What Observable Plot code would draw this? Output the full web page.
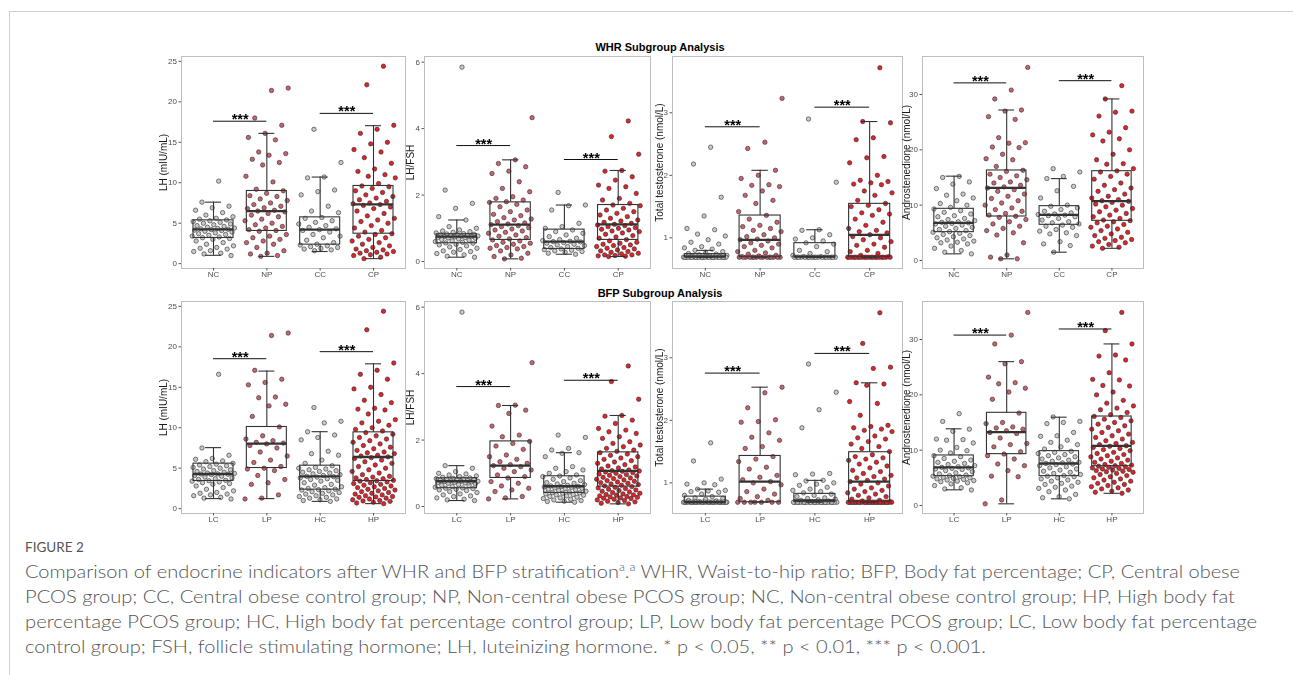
<!DOCTYPE html>
<html>
<head>
<meta charset="utf-8">
<script src="https://cdn.jsdelivr.net/npm/d3@7"></script>
<script src="https://cdn.jsdelivr.net/npm/@observablehq/plot@0.6"></script>
<style>
  html, body { margin: 0; padding: 0; background: #fff; }
  body { width: 1293px; height: 675px; position: relative; overflow: hidden; font-family: "Liberation Sans", Arial, sans-serif; }
  .card { position: absolute; left: 9px; top: 11px; width: 1300px; height: 700px; border-top: 1px solid #cfcfcf; border-left: 1px solid #cfcfcf; }
  .ptitle { position: absolute; width: 400px; text-align: center; font-weight: bold; font-size: 11px; color: #000; }
  .panel { position: absolute; will-change: transform; }
  .figlab { position: absolute; left: 25px; top: 539px; font-family: "Lato", "Open Sans", sans-serif; font-size: 13.5px; color: #555; }
  .cap { position: absolute; left: 25px; font-family: "Lato", "Open Sans", sans-serif; font-weight: 300; font-size: 18px; color: #555; white-space: nowrap; transform-origin: 0 50%; line-height: 25px; }
  .cap sup { font-size: 11px; line-height: 0; }
</style>
</head>
<body>
<div class="card"></div>
<div class="ptitle" style="left:460px; top:41px;">WHR Subgroup Analysis</div>
<div class="ptitle" style="left:460px; top:287px;">BFP Subgroup Analysis</div>
<div id="panels"></div>
<div class="figlab">FIGURE 2</div>
<div class="cap" data-w="1215" style="top:559px;">Comparison of endocrine indicators after WHR and BFP stratification<sup>a</sup>.<sup>a</sup> WHR, Waist-to-hip ratio; BFP, Body fat percentage; CP, Central obese</div>
<div class="cap" data-w="1210" style="top:584px;">PCOS group; CC, Central obese control group; NP, Non-central obese PCOS group; NC, Non-central obese control group; HP, High body fat</div>
<div class="cap" data-w="1232" style="top:609px;">percentage PCOS group; HC, High body fat percentage control group; LP, Low body fat percentage PCOS group; LC, Low body fat percentage</div>
<div class="cap" data-w="961" style="top:634px;">control group; FSH, follicle stimulating hormone; LH, luteinizing hormone. * p &lt; 0.05, ** p &lt; 0.01, *** p &lt; 0.001.</div>
<script>
// ---------- categories ----------
const groupsWHR = ["NC", "NP", "CC", "CP"];
const groupsBFP = ["LC", "LP", "HC", "HP"];
const yLabels = ["LH (mIU/mL)", "LH/FSH", "Total testosterone (nmol/L)", "Androstenedione (nmol/L)"];
const yTicksLH = [0, 5, 10, 15, 20, 25];
const yTicksRatio = [0, 2, 4, 6];
const yTicksT = [1, 2, 3];
const yTicksA = [0, 10, 20, 30];

// ---------- WHR: LH ----------
const whrLH_NC = [10.2,7.6,7.1,6.9,6.6,6.3,6.0,5.8,5.6,5.5,5.4,5.3,5.2,5.1,5.0,4.9,4.8,4.7,4.6,4.5,4.4,4.35,4.3,4.25,4.2,4.15,4.1,4.0,3.9,3.8,3.7,3.6,3.5,3.4,3.3,3.2,3.1,3.0,2.8,2.6,2.4,2.2,2.0,1.9,1.8,1.6,1.5,1.3,1.2,1.0];
const whrLH_NP = [21.7,21.4,18.0,17.1,16.1,15.6,15.3,13.8,13.6,13.4,12.9,12.5,12.2,10.8,10.1,9.2,9.0,8.7,8.4,8.3,8.0,7.8,7.5,7.3,7.1,6.9,6.8,6.6,6.5,6.4,6.2,6.0,5.8,5.5,5.3,5.0,4.8,4.6,4.4,4.2,4.1,4.0,3.6,3.4,3.2,3.0,2.8,2.6,2.4,2.0,1.6,1.3,1.2,1.0,0.9];
const whrLH_CC = [16.6,12.5,10.7,10.6,9.1,8.9,8.5,7.1,6.5,6.3,5.7,5.6,5.3,5.1,4.9,4.7,4.5,4.3,4.2,4.1,3.9,3.6,3.4,3.2,2.9,2.6,2.4,2.3,2.2,2.1,2.0,1.9,1.8,1.7,1.6];
const whrLH_CP = [24.4,22.1,17.1,16.6,16.1,15.0,14.8,14.1,13.8,13.1,12.4,11.7,11.4,11.0,10.8,10.6,9.9,9.6,9.5,9.3,9.0,8.8,8.5,8.3,8.1,7.9,7.7,7.5,7.4,7.3,7.2,7.0,6.8,6.5,6.2,5.9,5.6,5.4,5.2,5.0,4.7,4.4,4.1,3.9,3.7,3.6,3.4,3.2,3.0,2.8,2.6,2.4,2.2,2.0,1.8,1.7,1.6,1.5,1.4,1.3,1.2,1.1,1.0,0.8,0.62];
// box stats [lower whisker, q1, median, q3, upper whisker]
const whrLH_box = [[1.03,3.17,4.24,5.35,7.6],[0.9,4.04,6.5,8.98,16.1],[1.5,2.35,4.2,5.72,10.7],[0.62,3.7,7.33,9.6,17.05]];
const whrLH_sig = [17.6, 18.57];

// ---------- WHR: LH/FSH ----------
const whrRatio_NC = [5.85,2.15,1.75,1.6,1.35,1.25,1.05,1.0,0.95,0.92,0.9,0.88,0.86,0.84,0.83,0.82,0.81,0.8,0.79,0.78,0.77,0.76,0.75,0.75,0.74,0.73,0.72,0.71,0.7,0.68,0.66,0.64,0.62,0.6,0.58,0.56,0.55,0.52,0.5,0.47,0.44,0.4,0.36,0.32,0.3,0.28,0.24,0.2,0.16,0.13];
const whrRatio_NP = [4.33,3.06,2.95,2.85,2.72,2.65,2.4,2.2,2.1,1.95,1.9,1.85,1.8,1.78,1.72,1.65,1.55,1.5,1.42,1.38,1.32,1.28,1.25,1.2,1.16,1.13,1.11,1.08,1.05,1.02,0.98,0.95,0.92,0.88,0.85,0.8,0.76,0.72,0.68,0.65,0.62,0.58,0.55,0.52,0.48,0.45,0.42,0.4,0.38,0.32,0.25,0.2,0.15,0.1,0.08];
const whrRatio_CC = [2.08,1.7,1.68,1.55,1.15,1.05,1.0,0.95,0.9,0.85,0.8,0.75,0.7,0.66,0.63,0.61,0.6,0.59,0.57,0.55,0.52,0.5,0.48,0.45,0.42,0.4,0.38,0.36,0.34,0.32,0.3,0.28,0.25,0.22];
const whrRatio_CP = [4.23,3.76,3.23,2.74,2.72,2.55,2.45,2.3,2.25,2.2,2.05,1.9,1.85,1.75,1.7,1.68,1.6,1.55,1.5,1.45,1.4,1.35,1.3,1.25,1.22,1.18,1.15,1.12,1.1,1.08,1.05,1.02,1.0,0.97,0.95,0.92,0.9,0.86,0.82,0.78,0.74,0.7,0.66,0.62,0.58,0.55,0.52,0.5,0.48,0.45,0.42,0.4,0.38,0.35,0.32,0.3,0.28,0.25,0.23,0.2,0.2,0.18,0.17,0.16,0.15];
const whrRatio_box = [[0.13,0.55,0.75,0.82,1.25],[0.08,0.65,1.11,1.78,3.06],[0.22,0.38,0.6,0.96,1.7],[0.15,0.65,1.12,1.7,2.74]];
const whrRatio_sig = [3.49, 3.07];

// ---------- WHR: Total testosterone ----------
const whrT_NC = [2.45,2.18,1.65,1.35,1.15,1.13,1.06,1.03,0.97,0.93,0.9,0.86,0.84,0.82,0.8,0.78,0.76,0.75,0.74,0.73,0.72,0.71,0.7,0.7,0.69,0.69,0.69,0.69,0.69,0.69,0.69,0.69,0.69,0.69,0.69,0.69,0.69,0.69,0.69,0.69,0.69,0.69,0.69,0.69,0.69,0.69,0.69,0.69,0.69,0.69];
const whrT_NP = [3.23,2.53,2.43,2.08,2.0,1.95,1.85,1.84,1.82,1.75,1.68,1.6,1.55,1.42,1.36,1.3,1.25,1.2,1.18,1.15,1.12,1.1,1.05,1.02,1.0,0.98,0.97,0.95,0.92,0.9,0.88,0.86,0.84,0.8,0.78,0.76,0.74,0.72,0.71,0.7,0.69,0.69,0.69,0.69,0.69,0.69,0.69,0.69,0.69,0.69,0.69,0.69,0.69,0.69,0.69];
const whrT_CC = [2.9,1.89,1.13,1.12,1.05,1.0,0.98,0.95,0.92,0.9,0.86,0.8,0.78,0.75,0.72,0.7,0.7,0.69,0.69,0.69,0.69,0.69,0.69,0.69,0.69,0.69,0.69,0.69,0.69,0.69,0.69,0.69,0.69,0.69,0.69];
const whrT_CP = [3.72,2.86,2.84,2.6,2.57,2.3,2.28,2.2,2.0,1.92,1.9,1.88,1.86,1.85,1.75,1.72,1.68,1.6,1.55,1.52,1.5,1.45,1.4,1.38,1.36,1.3,1.25,1.2,1.15,1.12,1.1,1.08,1.05,1.02,1.0,0.97,0.94,0.9,0.88,0.85,0.8,0.78,0.75,0.72,0.7,0.69,0.69,0.69,0.69,0.69,0.69,0.69,0.69,0.69,0.69,0.69,0.69,0.69,0.69,0.69,0.69,0.69,0.69,0.69,0.69];
const whrT_box = [[0.69,0.69,0.70,0.74,0.80],[0.69,0.69,0.968,1.357,2.08],[0.69,0.69,0.70,0.915,1.13],[0.69,0.69,1.048,1.544,2.86]];
const whrT_sig = [2.776, 3.09];

// ---------- WHR: Androstenedione ----------
const whrA_NC = [15.2,15.0,14.2,13.8,13.0,12.0,11.8,11.3,10.8,10.3,10.0,9.6,9.3,9.0,8.7,8.4,8.1,7.9,7.6,7.4,7.2,7.0,6.9,6.8,6.7,6.6,6.4,6.2,6.0,5.8,5.6,5.4,5.2,5.1,4.9,4.7,4.5,4.3,4.1,3.9,3.7,3.5,3.3,3.2,3.0,2.6,2.2,1.8,1.5,1.2];
const whrA_NP = [34.9,30.8,29.2,27.2,27.0,26.0,25.5,22.2,21.3,21.2,20.5,20.4,19.2,18.4,18.2,17.0,16.3,16.1,15.6,15.3,15.0,14.6,14.2,14.0,13.6,13.3,13.1,12.8,12.5,12.0,11.6,11.2,10.8,10.4,10.0,9.5,9.2,8.9,8.5,8.2,8.0,7.8,7.4,7.0,6.6,6.2,5.8,5.4,5.0,4.6,3.2,1.0,0.6,0.3,0.3];
const whrA_CC = [16.6,16.0,15.2,14.8,13.4,12.6,11.3,10.0,9.8,9.5,9.2,8.9,8.6,8.4,8.3,8.2,8.1,7.9,7.6,7.3,7.0,6.8,6.6,6.4,6.2,6.0,5.6,5.3,5.0,4.8,4.5,3.4,3.0,2.7,1.5];
const whrA_CP = [31.6,29.2,27.0,26.8,26.1,24.0,23.2,22.7,22.0,21.6,20.0,19.2,18.2,17.5,17.4,16.6,16.2,16.0,15.6,15.2,14.7,14.0,13.6,13.1,12.8,12.5,12.0,11.6,11.3,11.0,10.8,10.7,10.5,10.2,10.0,9.7,9.4,9.1,8.8,8.5,8.2,7.9,7.6,7.3,7.2,7.0,6.8,6.5,6.2,6.0,5.7,5.4,5.1,4.8,4.5,4.2,4.0,3.8,3.6,3.4,3.2,2.9,2.6,2.4,2.2];
const whrA_box = [[1.2,5.12,6.8,9.34,15.24],[0.3,7.95,13.13,16.27,27.2],[1.5,6.45,8.25,9.82,14.8],[2.2,7.17,10.72,16.14,29.2]];
const whrA_sig = [32.1, 32.5];

// ---------- BFP: LH ----------
const bfpLH_LC = [16.6,7.5,6.6,6.2,6.1,5.9,5.8,5.6,5.5,5.4,5.3,5.2,5.1,5.0,4.9,4.8,4.7,4.6,4.5,4.4,4.35,4.3,4.28,4.25,4.2,4.1,4.0,3.9,3.8,3.7,3.6,3.5,3.45,3.4,3.3,3.2,3.1,3.0,2.8,2.6,2.4,2.2,2.0,1.9,1.8,1.7,1.6,1.4,1.3,1.2];
const bfpLH_LP = [21.7,21.4,17.1,16.0,15.6,15.3,13.8,13.7,12.9,12.7,11.4,10.1,9.0,8.6,8.4,8.2,8.1,8.0,7.8,7.5,7.0,6.5,6.0,5.7,5.2,5.0,4.9,4.7,4.1,3.6,3.2,3.0,1.7,1.3,1.2];
const bfpLH_HC = [12.5,10.8,10.6,9.5,9.1,8.8,8.5,7.1,6.8,6.6,6.0,5.6,5.3,5.1,5.0,4.9,4.8,4.7,4.6,4.5,4.4,4.3,4.2,4.1,4.0,3.95,3.9,3.8,3.7,3.6,3.5,3.4,3.2,3.0,2.9,2.7,2.6,2.5,2.4,2.35,2.3,2.2,2.1,2.0,1.9,1.8,1.7,1.6,1.5,1.4,1.3,1.2,1.1,1.0,0.9];
const bfpLH_HP = [24.4,22.1,18.0,17.1,16.6,16.0,15.0,14.8,14.1,13.4,13.1,12.4,12.3,12.2,11.7,11.0,10.8,10.6,10.3,10.0,9.8,9.6,9.4,9.2,9.0,8.8,8.6,8.4,8.2,8.0,7.8,7.6,7.4,7.2,7.0,6.9,6.8,6.6,6.5,6.4,6.3,6.2,6.0,5.8,5.6,5.4,5.2,5.0,4.8,4.6,4.4,4.2,4.0,3.9,3.8,3.7,3.6,3.5,3.45,3.4,3.3,3.2,3.1,3.0,2.9,2.8,2.7,2.6,2.5,2.4,2.3,2.2,2.1,2.0,1.9,1.8,1.7,1.6,1.5,1.45,1.4,1.3,1.2,1.1,1.0,0.95,0.9,0.8,0.7,0.62];
const bfpLH_box = [[1.24,3.42,4.28,5.56,7.54],[1.24,5.02,8.03,10.09,17.0],[0.9,2.35,4.0,5.31,9.51],[0.62,3.42,6.38,9.43,17.9]];
const bfpLH_sig = [18.53, 19.4];

// ---------- BFP: LH/FSH ----------
const bfpRatio_LC = [5.85,1.23,1.15,1.05,1.0,0.98,0.95,0.92,0.9,0.88,0.86,0.85,0.84,0.83,0.82,0.81,0.8,0.79,0.78,0.77,0.76,0.76,0.75,0.74,0.73,0.72,0.71,0.7,0.68,0.66,0.64,0.62,0.6,0.58,0.56,0.55,0.54,0.52,0.5,0.48,0.45,0.42,0.38,0.35,0.32,0.3,0.26,0.22,0.2,0.18];
const bfpRatio_LP = [4.33,3.05,3.04,2.9,2.8,2.42,2.15,2.1,1.96,1.9,1.82,1.72,1.55,1.5,1.42,1.35,1.3,1.26,1.23,1.2,1.15,1.1,1.05,0.95,0.9,0.86,0.75,0.7,0.62,0.55,0.5,0.45,0.3,0.26,0.23];
const bfpRatio_HC = [2.15,2.08,1.75,1.7,1.62,1.6,1.5,1.2,1.15,1.1,1.05,1.0,0.95,0.92,0.9,0.86,0.82,0.78,0.75,0.72,0.7,0.68,0.66,0.64,0.62,0.61,0.6,0.59,0.58,0.56,0.55,0.54,0.52,0.5,0.48,0.46,0.44,0.42,0.41,0.4,0.38,0.36,0.35,0.34,0.32,0.3,0.28,0.26,0.24,0.22,0.2,0.18,0.16,0.15,0.13];
const bfpRatio_HP = [4.23,3.76,3.23,2.74,2.72,2.6,2.5,2.35,2.3,2.25,2.2,2.1,2.05,1.95,1.9,1.85,1.8,1.75,1.7,1.66,1.62,1.58,1.54,1.5,1.46,1.42,1.38,1.34,1.3,1.26,1.22,1.19,1.16,1.13,1.1,1.08,1.07,1.06,1.04,1.02,1.0,0.98,0.96,0.94,0.92,0.9,0.88,0.86,0.84,0.82,0.8,0.78,0.76,0.74,0.72,0.7,0.68,0.66,0.64,0.62,0.6,0.58,0.56,0.54,0.52,0.5,0.48,0.46,0.44,0.42,0.4,0.38,0.36,0.35,0.34,0.32,0.3,0.29,0.28,0.26,0.25,0.24,0.22,0.2,0.18,0.16,0.14,0.12,0.1,0.08];
const bfpRatio_box = [[0.18,0.55,0.76,0.85,1.23],[0.23,0.86,1.23,1.96,3.04],[0.13,0.41,0.61,0.91,1.62],[0.08,0.6,1.07,1.63,2.74]];
const bfpRatio_sig = [3.61, 3.8];

// ---------- BFP: Total testosterone ----------
const bfpT_LC = [1.64,1.35,1.06,1.0,0.98,0.97,0.9,0.88,0.87,0.86,0.85,0.82,0.8,0.78,0.76,0.75,0.74,0.72,0.71,0.7,0.69,0.69,0.69,0.69,0.69,0.69,0.69,0.69,0.69,0.69,0.69,0.69,0.69,0.69,0.69,0.69,0.69,0.69,0.69,0.69,0.69,0.69,0.69,0.69,0.69,0.69,0.69,0.69,0.69,0.69];
const bfpT_LP = [2.53,2.44,2.2,2.01,1.98,1.97,1.8,1.73,1.68,1.58,1.55,1.42,1.38,1.34,1.25,1.22,1.12,1.09,1.05,1.02,1.0,0.97,0.9,0.86,0.82,0.78,0.75,0.72,0.69,0.69,0.69,0.69,0.69,0.69,0.69];
const bfpT_HC = [2.9,2.45,2.17,1.88,1.15,1.14,1.13,1.04,1.03,1.0,0.98,0.96,0.93,0.9,0.88,0.86,0.84,0.82,0.8,0.78,0.76,0.75,0.74,0.73,0.72,0.71,0.7,0.69,0.69,0.69,0.69,0.69,0.69,0.69,0.69,0.69,0.69,0.69,0.69,0.69,0.69,0.69,0.69,0.69,0.69,0.69,0.69,0.69,0.69,0.69,0.69,0.69,0.69,0.69,0.69];
const bfpT_HP = [3.72,3.23,2.85,2.83,2.6,2.58,2.56,2.3,2.27,2.08,1.92,1.9,1.88,1.86,1.84,1.82,1.75,1.72,1.7,1.66,1.62,1.58,1.55,1.5,1.45,1.42,1.4,1.38,1.36,1.33,1.3,1.27,1.24,1.2,1.18,1.15,1.12,1.1,1.08,1.06,1.04,1.02,1.0,0.98,0.95,0.92,0.9,0.88,0.86,0.84,0.82,0.8,0.78,0.76,0.74,0.72,0.71,0.7,0.69,0.69,0.69,0.69,0.69,0.69,0.69,0.69,0.69,0.69,0.69,0.69,0.69,0.69,0.69,0.69,0.69,0.69,0.69,0.69,0.69,0.69,0.69,0.69,0.69,0.69,0.69,0.69,0.69,0.69,0.69,0.69];
const bfpT_box = [[0.69,0.69,0.69,0.78,0.90],[0.69,0.69,1.02,1.43,2.53],[0.69,0.69,0.72,0.824,1.04],[0.69,0.69,1.02,1.49,2.6]];
const bfpT_sig = [2.755, 3.07];

// ---------- BFP: Androstenedione ----------
const bfpA_LC = [16.6,15.2,13.8,13.4,12.0,11.9,11.8,11.3,10.5,10.0,9.9,9.5,9.0,8.8,8.5,8.2,8.0,7.8,7.6,7.4,7.2,7.0,6.9,6.8,6.7,6.6,6.5,6.3,6.1,5.9,5.7,5.5,5.4,5.3,5.2,5.1,5.0,4.9,4.8,4.7,4.6,4.5,4.4,4.3,4.1,3.9,3.6,3.2,3.0,2.8];
const bfpA_LP = [34.9,30.8,29.2,26.0,25.6,23.2,22.2,22.0,21.2,20.5,19.2,16.7,15.0,14.8,14.2,14.0,13.8,13.5,13.2,13.0,12.2,11.2,11.0,10.6,9.7,9.3,9.0,8.4,7.5,7.2,6.3,5.3,5.2,1.0,0.3];
const bfpA_HC = [16.0,15.2,15.0,14.8,13.2,12.6,12.5,11.8,11.4,11.0,10.6,10.2,9.8,9.6,9.4,9.2,9.0,8.8,8.6,8.4,8.2,8.0,7.8,7.7,7.6,7.5,7.4,7.2,7.0,6.8,6.6,6.4,6.2,6.0,5.8,5.6,5.4,5.3,5.2,5.0,4.8,4.6,4.4,4.2,4.0,3.8,3.5,3.3,3.1,2.8,2.5,2.0,1.6,1.4,1.2];
const bfpA_HP = [34.9,31.6,29.2,27.2,27.0,26.3,24.0,22.8,22.7,21.7,21.6,20.5,20.0,19.0,18.5,18.0,17.6,17.3,16.8,16.4,16.1,15.9,15.6,15.3,15.0,14.7,14.4,14.1,13.8,13.5,13.2,12.9,12.6,12.3,12.0,11.7,11.4,11.2,11.0,10.8,10.7,10.5,10.3,10.1,9.9,9.6,9.4,9.2,9.0,8.8,8.6,8.4,8.2,8.0,7.8,7.6,7.4,7.3,7.2,7.1,7.0,6.9,6.8,6.7,6.6,6.5,6.4,6.3,6.2,6.1,6.0,5.8,5.6,5.4,5.2,5.0,4.8,4.6,4.4,4.2,4.0,3.8,3.6,3.4,3.2,3.0,2.8,2.6,2.4,2.2];
const bfpA_box = [[2.83,5.3,6.87,9.04,13.86],[0.3,9.28,13.25,16.75,26.0],[1.2,5.3,7.59,9.82,15.96],[2.2,7.1,10.78,16.08,29.2]];
const bfpA_sig = [30.8, 31.9];

// ---------- layout / styles ----------
const pointFill = ["#c9c9c9", "#c8646d", "#c9c9c9", "#e2232a"];
const colX = [[181, 405], [424, 650], [672, 902], [922, 1143]];
const rowY = [[56, 268], [301, 513]];
const yDomains = [[-0.6, 25.6], [-0.21, 6.17], [0.51, 3.9], [-1.45, 36.87]];
const labelOffsets = [18, 14, 13, 16];

const panels = [
  {row: 0, col: 0, groups: groupsWHR, vals: [whrLH_NC, whrLH_NP, whrLH_CC, whrLH_CP], box: whrLH_box, sig: whrLH_sig, ticks: yTicksLH},
  {row: 0, col: 1, groups: groupsWHR, vals: [whrRatio_NC, whrRatio_NP, whrRatio_CC, whrRatio_CP], box: whrRatio_box, sig: whrRatio_sig, ticks: yTicksRatio},
  {row: 0, col: 2, groups: groupsWHR, vals: [whrT_NC, whrT_NP, whrT_CC, whrT_CP], box: whrT_box, sig: whrT_sig, ticks: yTicksT},
  {row: 0, col: 3, groups: groupsWHR, vals: [whrA_NC, whrA_NP, whrA_CC, whrA_CP], box: whrA_box, sig: whrA_sig, ticks: yTicksA},
  {row: 1, col: 0, groups: groupsBFP, vals: [bfpLH_LC, bfpLH_LP, bfpLH_HC, bfpLH_HP], box: bfpLH_box, sig: bfpLH_sig, ticks: yTicksLH},
  {row: 1, col: 1, groups: groupsBFP, vals: [bfpRatio_LC, bfpRatio_LP, bfpRatio_HC, bfpRatio_HP], box: bfpRatio_box, sig: bfpRatio_sig, ticks: yTicksRatio},
  {row: 1, col: 2, groups: groupsBFP, vals: [bfpT_LC, bfpT_LP, bfpT_HC, bfpT_HP], box: bfpT_box, sig: bfpT_sig, ticks: yTicksT},
  {row: 1, col: 3, groups: groupsBFP, vals: [bfpA_LC, bfpA_LP, bfpA_HC, bfpA_HP], box: bfpA_box, sig: bfpA_sig, ticks: yTicksA}
];

// deterministic horizontal jitter (position only)
function jitter(i, g) {
  const f = ((i + 1) * 0.6180339887 + g * 0.37) % 1;
  return (f - 0.5) * 0.82;
}

const ML = 45, MR = 3, MT = 3, MB = 22;
const container = document.getElementById("panels");

panels.forEach(p => {
  const [x0, x1] = colX[p.col];
  const [y0, y1] = rowY[p.row];
  const pts = [];
  p.vals.forEach((arr, g) => arr.forEach((v, i) => pts.push({x: g + 1 + jitter(i, g), y: v, fill: pointFill[g]})));
  const boxes = p.box.map((b, g) => ({i: g + 1, lo: b[0], q1: b[1], med: b[2], q3: b[3], hi: b[4]}));
  const sigs = [{a: 1, b: 2, y: p.sig[0]}, {a: 3, b: 4, y: p.sig[1]}];
  const bw = 0.375, cw = 0.15;
  const svg = Plot.plot({
    width: (x1 - x0) + ML + MR,
    height: (y1 - y0) + MT + MB,
    marginLeft: ML, marginRight: MR, marginTop: MT, marginBottom: MB,
    x: {domain: [0.4, 4.6], label: null},
    y: {domain: yDomains[p.col], label: null},
    color: {type: "identity"},
    style: {fontFamily: "'Liberation Sans', Arial, sans-serif", background: "transparent", overflow: "visible"},
    marks: [
      Plot.frame({stroke: "#bdbdbd", strokeWidth: 1}),
      Plot.axisY(p.ticks, {tickSize: 2.5, tickPadding: 2, fontSize: 8, fill: "#4d4d4d", stroke: "#555", label: null, tickFormat: d => String(d)}),
      Plot.axisX([1, 2, 3, 4], {tickSize: 2.5, tickPadding: 0.5, fontSize: 8, fill: "#4d4d4d", stroke: "#555", label: null, tickFormat: d => p.groups[d - 1]}),
      Plot.text([yLabels[p.col]], {frameAnchor: "left", textAnchor: "middle", dx: -labelOffsets[p.col], rotate: -90, fontSize: 10, fill: "#1a1a1a"}),
      Plot.dot(pts, {x: "x", y: "y", r: 2.2, fill: "fill", stroke: "#2b2b2b", strokeWidth: 0.6}),
      Plot.ruleX(boxes, {x: "i", y1: "q3", y2: "hi", stroke: "#333", strokeWidth: 1.1}),
      Plot.ruleX(boxes, {x: "i", y1: "lo", y2: "q1", stroke: "#333", strokeWidth: 1.1}),
      Plot.ruleY(boxes, {y: "hi", x1: d => d.i - cw, x2: d => d.i + cw, stroke: "#333", strokeWidth: 1.1}),
      Plot.ruleY(boxes, {y: "lo", x1: d => d.i - cw, x2: d => d.i + cw, stroke: "#333", strokeWidth: 1.1}),
      Plot.rect(boxes, {x1: d => d.i - bw, x2: d => d.i + bw, y1: "q1", y2: "q3", fill: "none", stroke: "#333", strokeWidth: 1.1}),
      Plot.ruleY(boxes, {y: "med", x1: d => d.i - bw, x2: d => d.i + bw, stroke: "#333", strokeWidth: 2.3}),
      Plot.ruleY(sigs, {y: "y", x1: "a", x2: "b", stroke: "#111", strokeWidth: 1}),
      Plot.text(sigs, {x: d => (d.a + d.b) / 2, y: "y", text: () => "***", lineAnchor: "bottom", dy: 3, fontSize: 14.5, fontWeight: "bold", fill: "#000"})
    ]
  });
  const div = document.createElement("div");
  div.className = "panel";
  div.style.left = (x0 - ML) + "px";
  div.style.top = (y0 - MT) + "px";
  div.appendChild(svg);
  container.appendChild(div);
});

// fit caption lines to their measured widths in the reference
document.querySelectorAll(".cap").forEach(el => {
  const target = +el.dataset.w;
  const w = el.getBoundingClientRect().width;
  if (w > 0) el.style.transform = `scaleX(${target / w})`;
});
</script>
</body>
</html>
